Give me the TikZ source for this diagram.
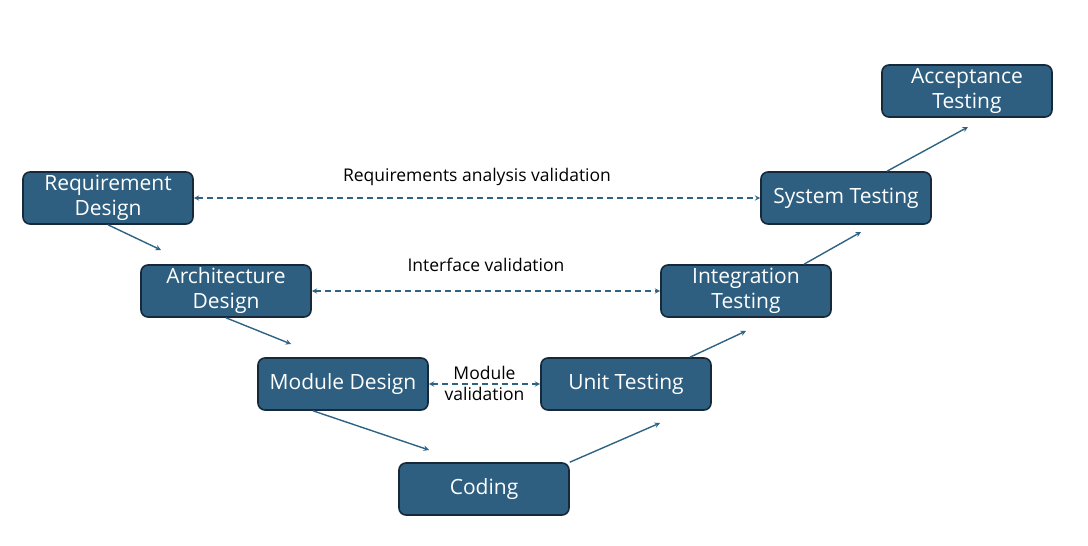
\documentclass[tikz,border=0pt]{standalone}
\usepackage{fontspec}
\setmainfont{Open Sans}
\usepackage[dvipsnames]{xcolor}
\usetikzlibrary{positioning,calc}
\definecolor{stagefill}{HTML}{2E5F80}
\definecolor{stageline}{HTML}{15293A}
\definecolor{flowline}{HTML}{2E6384}
\tikzset{
    stage/.style={draw=stageline,fill=stagefill,line width=1.6pt,rounded corners=7pt,minimum width=170pt,minimum height=52pt,align=center,text=white,font=\fontsize{21}{25}\selectfont,inner sep=2pt},
    phase/.style={->,draw=flowline,line width=1.4pt},
    check/.style={<->,draw=flowline,line width=1.4pt,dash pattern=on 6pt off 4pt},
}

\begin{document}
\begin{tikzpicture}[>=stealth,x=1pt,y=-1pt]
        \useasboundingbox (0,0) rectangle (1088,546);
        \node[stage] (req) at (108,198) {Requirement\\Design};
        \node[stage] (arch) at (226,291) {Architecture\\Design};
        \node[stage] (mod) at (343,384) {Module Design};
        \node[stage] (code) at (484,489) {Coding};
        \node[stage] (unit) at (626,384) {Unit Testing};
        \node[stage] (integ) at (746,291) {Integration\\Testing};
        \node[stage] (sys) at (846,198) {System Testing};
        \node[stage] (acc) at (967,91) {Acceptance\\Testing};

        \coordinate (e1) at (161,250);
        \coordinate (e2) at (291,344);
        \coordinate (e3) at (429,450);
        \coordinate (e4) at (660,423);
        \coordinate (e5) at (746,331);
        \coordinate (e6) at (861,232);
        \coordinate (e7) at (968,127);

        \path[every node/.style={font=\fontsize{17.5}{21}\selectfont}]
            (req.south) edge[phase] (e1)
            (arch.south) edge[phase] (e2)
            ([xshift=-30]mod.south) edge[phase] (e3)
            (code.north east) edge[phase] (e4)
            ([xshift=64]unit.north) edge[phase] (e5)
            ([xshift=58]integ.north) edge[phase] (e6)
            ([xshift=41]sys.north) edge[phase] (e7)
            (req.east) edge[check] node[above=8pt] {Requirements analysis validation} (sys.west)
            (arch.east) edge[check] node[above=15pt] {Interface validation} (integ.west)
            (mod.east) edge[check] node[align=center,yshift=1pt] {Module\\validation} (unit.west)
            ;
\end{tikzpicture}
\end{document}
